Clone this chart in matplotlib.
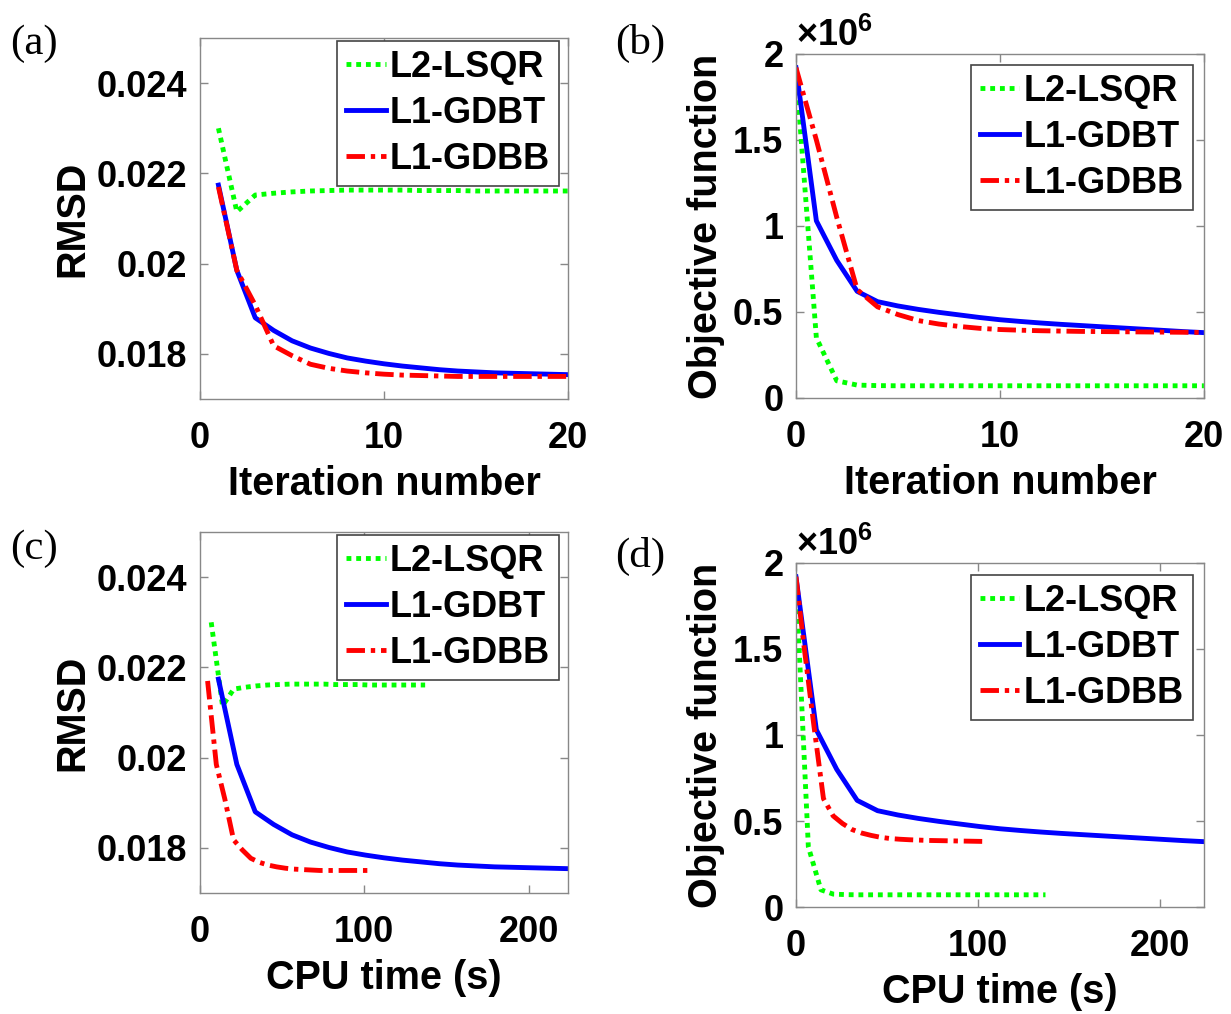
import matplotlib
matplotlib.use('Agg')
import matplotlib.pyplot as plt
from matplotlib.ticker import FuncFormatter


plt.rcParams['font.family'] = 'Liberation Sans'
plt.rcParams['font.weight'] = 'bold'
plt.rcParams['axes.labelweight'] = 'bold'
plt.rcParams['mathtext.fontset'] = 'custom'
plt.rcParams['mathtext.rm'] = 'Liberation Sans:bold'
plt.rcParams['mathtext.bf'] = 'Liberation Sans:bold'

SERIES = ['L2-LSQR', 'L1-GDBT', 'L1-GDBB']

# iteration index 0..20 (RMSD is only recorded from iteration 1)
iterations = list(range(21))

lsqr_rmsd = [0.02300, 0.02115, 0.02152, 0.02156, 0.02159, 0.02161, 0.02162, 0.02163, 0.02163, 0.02163,
             0.02163, 0.02162, 0.02162, 0.02162, 0.02161, 0.02161, 0.02161, 0.02161, 0.02161, 0.02161]
gdbt_rmsd = [0.02174, 0.01985, 0.01880, 0.01852, 0.01829, 0.01813, 0.01801, 0.01791, 0.01784, 0.01778,
             0.01773, 0.01769, 0.01765, 0.01762, 0.01760, 0.01758, 0.01757, 0.01756, 0.01755, 0.01754]
gdbb_rmsd = [0.02170, 0.01985, 0.01908, 0.01818, 0.01796, 0.01777, 0.01768, 0.01762, 0.01758, 0.01755,
             0.01753, 0.01752, 0.01751, 0.01750, 0.01750, 0.01750, 0.01750, 0.01750, 0.01750, 0.01750]

lsqr_obj = [1.90e6, 0.35e6, 0.10e6, 0.075e6, 0.072e6, 0.071e6, 0.071e6, 0.071e6, 0.071e6, 0.071e6, 0.071e6,
            0.071e6, 0.071e6, 0.071e6, 0.071e6, 0.071e6, 0.071e6, 0.071e6, 0.071e6, 0.071e6, 0.071e6]
gdbt_obj = [1.92e6, 1.03e6, 0.80e6, 0.62e6, 0.56e6, 0.535e6, 0.515e6, 0.498e6, 0.483e6, 0.468e6, 0.455e6,
            0.445e6, 0.436e6, 0.428e6, 0.421e6, 0.414e6, 0.407e6, 0.400e6, 0.393e6, 0.386e6, 0.380e6]
gdbb_obj = [1.92e6, 1.50e6, 1.05e6, 0.63e6, 0.53e6, 0.485e6, 0.450e6, 0.430e6, 0.416e6, 0.405e6, 0.398e6,
            0.394e6, 0.391e6, 0.389e6, 0.387e6, 0.386e6, 0.385e6, 0.384e6, 0.383e6, 0.382e6, 0.381e6]

# cumulative CPU time (s) at each iteration
lsqr_time = [0, 6.8, 13.7, 20.5, 27.4, 34.2, 41.1, 47.9, 54.8, 61.6, 68.5,
             75.3, 82.2, 89.0, 95.9, 102.7, 109.6, 116.4, 123.3, 130.1, 137.0]
gdbt_time = [0, 11.2, 22.4, 33.6, 44.8, 56.0, 67.2, 78.4, 89.6, 100.8, 112.0,
             123.2, 134.4, 145.6, 156.8, 168.0, 179.2, 190.4, 201.6, 212.8, 224.0]
gdbb_time = [0, 4.6, 9.9, 15.1, 20.4, 25.6, 30.9, 36.1, 41.4, 46.6, 51.9,
             57.1, 62.4, 67.6, 72.9, 78.1, 83.4, 88.6, 93.9, 99.1, 104.4]

STYLES = {
    'L2-LSQR': dict(color='#00ff00', linestyle=(0, (1.0, 1.0))),
    'L1-GDBT': dict(color='#0000ff', linestyle='-'),
    'L1-GDBB': dict(color='#ff0000', linestyle=(0, (3.8, 1.2, 0.9, 1.2))),
}

TICK_SIZE = 26
LABEL_SIZE = 28.5
LEGEND_SIZE = 26


def style_axis(ax, xlim, xticks, ylim, yticks):
    ax.set_xlim(*xlim)
    ax.set_ylim(*ylim)
    ax.set_xticks(xticks)
    ax.set_yticks(yticks)
    ax.tick_params(direction='in', top=True, right=True, length=6, width=1,
                   color='#888888', labelsize=TICK_SIZE)
    ax.tick_params(axis='x', pad=16)
    ax.tick_params(axis='y', pad=9)
    for spine in ax.spines.values():
        spine.set_color('#888888')
        spine.set_linewidth(1.0)
    ax.xaxis.set_major_formatter(FuncFormatter(lambda v, p: f'{v:g}'))


def add_legend(ax, anchor):
    leg = ax.legend(loc='upper right', bbox_to_anchor=anchor, fontsize=LEGEND_SIZE,
                    handlelength=1.1, handletextpad=0.12, labelspacing=0.3,
                    borderpad=0.25, borderaxespad=0.0, fancybox=False, framealpha=1)
    leg.get_frame().set_edgecolor('#444444')
    leg.get_frame().set_linewidth(1.2)


def plot_series(ax, xs, ys):
    for name, x, y in zip(SERIES, xs, ys):
        ax.plot(x, y, label=name, linewidth=3.5, **STYLES[name])


fig = plt.figure(figsize=(12.31, 10.14), dpi=100)

ax_a = fig.add_axes([0.1625, 0.6065, 0.299, 0.356])
ax_b = fig.add_axes([0.6466, 0.6075, 0.3314, 0.3393])
ax_c = fig.add_axes([0.1625, 0.1193, 0.299, 0.356])
ax_d = fig.add_axes([0.6466, 0.1055, 0.3314, 0.3393])

# RMSD vs iteration
plot_series(ax_a, [iterations[1:]] * 3, [lsqr_rmsd, gdbt_rmsd, gdbb_rmsd])
# objective vs iteration
plot_series(ax_b, [iterations] * 3, [lsqr_obj, gdbt_obj, gdbb_obj])
# RMSD vs CPU time
plot_series(ax_c, [lsqr_time[1:], gdbt_time[1:], gdbb_time[1:]], [lsqr_rmsd, gdbt_rmsd, gdbb_rmsd])
# objective vs CPU time
plot_series(ax_d, [lsqr_time, gdbt_time, gdbb_time], [lsqr_obj, gdbt_obj, gdbb_obj])

rmsd_ticks = [0.018, 0.020, 0.022, 0.024]
obj_ticks = [0, 0.5e6, 1.0e6, 1.5e6, 2.0e6]

style_axis(ax_a, (0, 20), [0, 10, 20], (0.017, 0.025), rmsd_ticks)
style_axis(ax_b, (0, 20), [0, 10, 20], (0, 2.0e6), obj_ticks)
style_axis(ax_c, (0, 224), [0, 100, 200], (0.017, 0.025), rmsd_ticks)
style_axis(ax_d, (0, 224), [0, 100, 200], (0, 2.0e6), obj_ticks)

for ax in (ax_a, ax_c):
    ax.yaxis.set_major_formatter(FuncFormatter(lambda v, p: f'{v:g}'))
    ax.set_ylabel('RMSD', fontsize=LABEL_SIZE, labelpad=4)

for ax in (ax_b, ax_d):
    ax.yaxis.set_major_formatter(FuncFormatter(lambda v, p: f'{v / 1e6:g}'))
    ax.set_ylabel('Objective function', fontsize=LABEL_SIZE, labelpad=6)
    ax.text(0.0, 1.0, r'$\times\mathbf{10}^{\mathbf{6}}$', transform=ax.transAxes,
            fontsize=TICK_SIZE, ha='left', va='bottom')

for ax in (ax_a, ax_b):
    ax.set_xlabel('Iteration number', fontsize=LABEL_SIZE, labelpad=6)
for ax in (ax_c, ax_d):
    ax.set_xlabel('CPU time (s)', fontsize=LABEL_SIZE, labelpad=6)

add_legend(ax_a, (0.976, 0.992))
add_legend(ax_b, (0.973, 0.968))
add_legend(ax_c, (0.976, 0.992))
add_legend(ax_d, (0.973, 0.965))

panel_font = dict(family='Liberation Serif', fontweight='normal', fontsize=31, va='top')
fig.text(0.008, 0.976, '(a)', **panel_font)
fig.text(0.500, 0.976, '(b)', **panel_font)
fig.text(0.008, 0.478, '(c)', **panel_font)
fig.text(0.500, 0.470, '(d)', **panel_font)

fig.savefig('out.png', dpi=100)
